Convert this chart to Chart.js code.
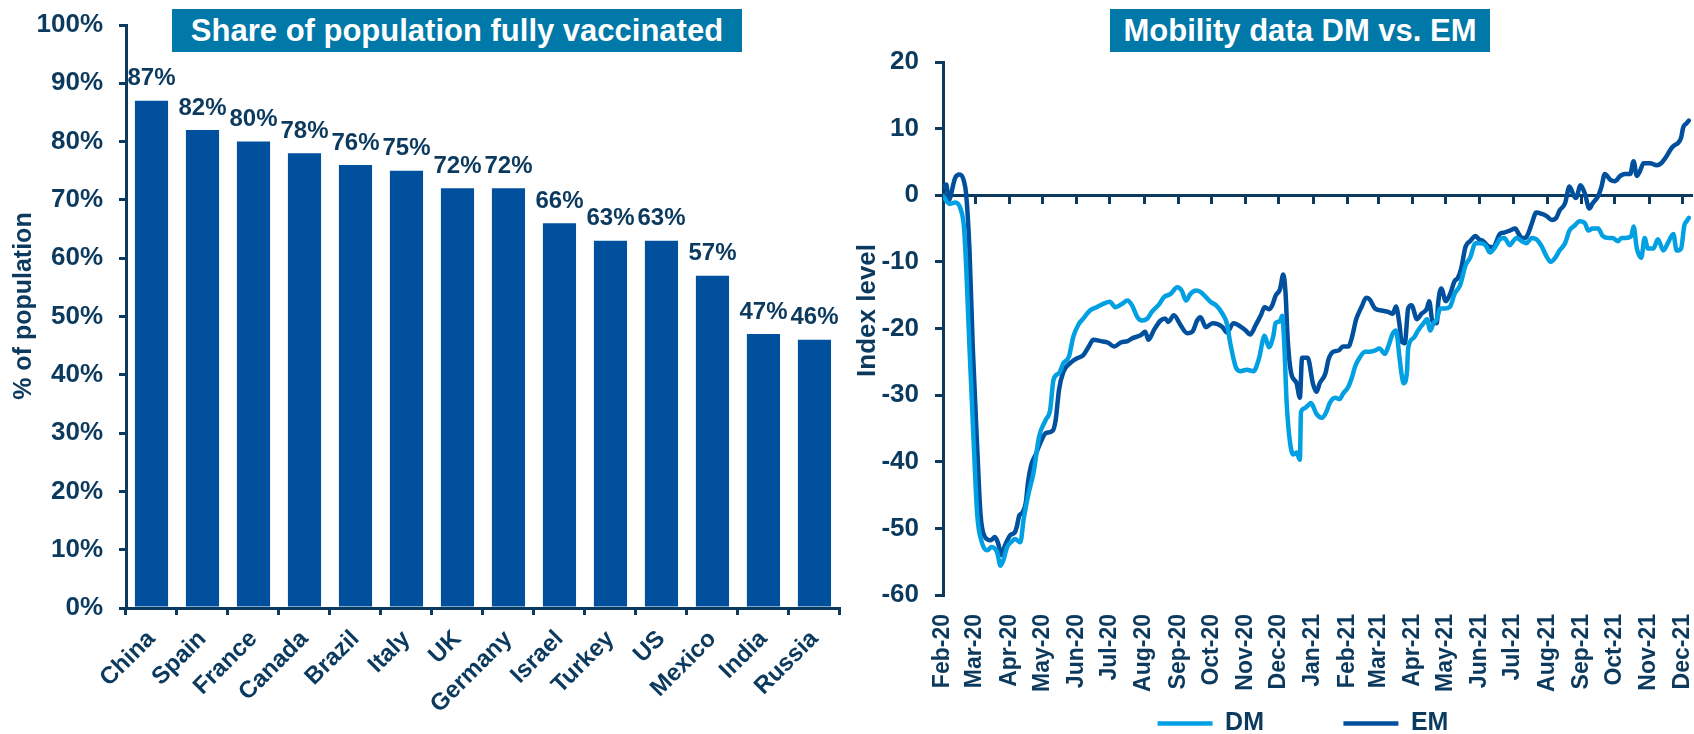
<!DOCTYPE html>
<html>
<head>
<meta charset="utf-8">
<script src="https://cdn.jsdelivr.net/npm/chart.js@4.4.1/dist/chart.umd.min.js"></script>
<style>
  html, body { margin: 0; padding: 0; background: #fff; overflow: hidden; }
  body { width: 1694px; height: 734px; position: relative; font-family: "Liberation Sans", Arial, sans-serif; }
  .panel { position: absolute; top: 0; height: 734px; }
  #left { left: 0; width: 845px; }
  #right { left: 845px; width: 900px; }
  .title { position: absolute; top: 9px; height: 43px; line-height: 43px; background: #0078A8; color: #fff;
           font-weight: bold; font-size: 31px; text-align: center; white-space: nowrap; }
</style>
</head>
<body>
<div class="panel" id="left"><canvas id="vacc"></canvas></div>
<div class="panel" id="right"><canvas id="mob"></canvas></div>
<div class="title" style="left:172px; width:570px;">Share of population fully vaccinated</div>
<div class="title" style="left:1110px; width:380px;">Mobility data DM vs. EM</div>

<script>
// left panel: share of population fully vaccinated (%)
const countries = ['China', 'Spain', 'France', 'Canada', 'Brazil', 'Italy', 'UK', 'Germany',
                   'Israel', 'Turkey', 'US', 'Mexico', 'India', 'Russia'];
const vaccinated = [87, 82, 80, 78, 76, 75, 72, 72, 66, 63, 63, 57, 47, 46];

// right panel: mobility index, x = days since 15 Feb 2020
const monthLabels = ['Feb-20', 'Mar-20', 'Apr-20', 'May-20', 'Jun-20', 'Jul-20', 'Aug-20', 'Sep-20',
                     'Oct-20', 'Nov-20', 'Dec-20', 'Jan-21', 'Feb-21', 'Mar-21', 'Apr-21', 'May-21',
                     'Jun-21', 'Jul-21', 'Aug-21', 'Sep-21', 'Oct-21', 'Nov-21', 'Dec-21'];

const dmDays = [0, 6, 11, 16, 19, 21, 24, 28, 31, 35, 40, 44, 49, 52, 55, 58, 62, 65, 70, 73,
  77, 82, 87, 93, 97, 100, 105, 109, 114, 118, 123, 127, 133, 139, 145, 151, 156, 162, 167, 171,
  176, 180, 185, 189, 195, 200, 206, 212, 216, 220, 224, 229, 233, 238, 242, 247, 253, 257, 260, 265,
  269, 275, 281, 286, 291, 295, 299, 301, 305, 307, 309, 311, 314, 317, 320, 323, 324, 327, 330, 333,
  338, 343, 347, 350, 355, 359, 362, 367, 370, 373, 377, 382, 386, 391, 395, 400, 403, 407, 410, 413,
  415, 417, 420, 421, 426, 430, 435, 438, 441, 444, 447, 450, 454, 459, 463, 468, 473, 477, 482, 486,
  491, 495, 500, 504, 508, 513, 516, 519, 524, 528, 533, 537, 542, 546, 550, 554, 558, 563, 567, 572,
  576, 581, 584, 588, 593, 597, 602, 606, 611, 614, 618, 623, 625, 628, 632, 635, 638, 643, 647, 652,
  656, 661, 664, 668, 671, 673, 675];
const dmIndex = [-0.1, -1.3, -1.1, -2.1, -4.8, -10.8, -23, -38, -48, -52, -53.3, -52.8, -53.6, -55.6, -54.6, -52.8, -52, -51.6, -52.1, -48.6,
  -45.1, -41.6, -36.2, -33.7, -32.2, -27.7, -26.7, -25.2, -24.2, -21.2, -19.3, -18.5, -17.3, -16.8, -16.3, -16, -16.8, -16.3, -15.8, -16.5,
  -18.3, -18.8, -18.5, -17.5, -16.5, -15.3, -14.8, -13.8, -14.3, -15.8, -14.8, -14.3, -14.5, -15.3, -16, -16.5, -17.8, -19.3, -22.2, -25.8,
  -26.4, -26.2, -26.4, -24.5, -21.1, -22.8, -21.1, -19.2, -18.9, -18.1, -22.8, -31, -37, -38.9, -38.6, -39.7, -32.6, -32, -31.6, -31.2,
  -32.8, -33.4, -32.5, -31.2, -30.4, -30.6, -29.8, -28.7, -27.4, -25.7, -24.4, -23.5, -23.5, -23.3, -23, -23.8, -22.7, -20.8, -20.3, -24.1,
  -26.8, -28.2, -26.3, -23, -21.4, -20.3, -19.2, -18.6, -20.3, -19.2, -18.6, -17, -17, -16.7, -14.8, -13.5, -10.5, -9.4, -7.2, -7.2,
  -7.5, -8.6, -7.7, -6.6, -6.4, -7.5, -6.9, -6.4, -6.9, -7.2, -6.4, -6.6, -7.7, -9.1, -10, -9.4, -8.3, -7.2, -5.3, -4.5,
  -3.9, -4.2, -5.3, -5, -5, -6.1, -6.4, -6.4, -6.9, -6.4, -6.4, -6.1, -4.7, -8, -9.4, -6.4, -8, -8, -6.6, -8.3,
  -7.2, -5.8, -8.3, -8, -4.5, -3.9, -3.4];

const emDays = [0, 3, 5, 11, 15, 19, 21, 24, 27, 31, 34, 38, 43, 47, 50, 53, 56, 61, 65, 67,
  69, 72, 75, 77, 80, 84, 88, 93, 99, 102, 105, 109, 115, 121, 127, 132, 136, 143, 149, 155,
  161, 167, 171, 179, 183, 186, 191, 197, 201, 204, 209, 215, 221, 226, 230, 233, 238, 244, 248, 253,
  257, 263, 270, 274, 278, 283, 288, 291, 295, 298, 301, 305, 308, 310, 312, 315, 320, 323, 325, 330,
  335, 338, 341, 346, 349, 353, 358, 362, 367, 370, 374, 379, 383, 386, 391, 397, 403, 407, 410, 413,
  415, 418, 421, 424, 429, 433, 438, 440, 443, 447, 448, 451, 455, 459, 463, 466, 469, 473, 477, 482,
  485, 489, 494, 498, 504, 508, 513, 518, 521, 524, 527, 530, 533, 537, 542, 546, 551, 555, 558, 563,
  567, 571, 573, 577, 581, 585, 588, 593, 596, 599, 604, 608, 613, 617, 622, 625, 628, 631, 634, 640,
  646, 650, 655, 659, 662, 665, 668, 670, 673, 675];
const emIndex = [1.2, 1.6, -0.8, 2.6, 3.1, 2.1, 0.1, -8.3, -23, -38, -48, -51.3, -51.8, -51.3, -52.3, -54, -52.6, -51, -50.6, -49.6,
  -48.1, -47.6, -46.1, -43, -40.4, -38.9, -37.2, -35.7, -35.4, -33.7, -29.2, -26.5, -25.2, -24.5, -24, -22.7, -21.7, -21.9, -22.1, -22.7,
  -22.1, -21.9, -21.5, -21, -20.5, -21.7, -20.2, -18.8, -18.5, -19, -18, -19.5, -20.7, -20.4, -18.8, -18.3, -19.8, -19.2, -19.3, -19.8,
  -20.6, -19.2, -19.8, -20.3, -20.9, -19.5, -17.9, -16.8, -17.1, -16.5, -15.1, -14.1, -11.9, -14.6, -21.7, -26.6, -28.2, -30.4, -24.4, -24.4,
  -28.4, -29.5, -28.2, -26.8, -24.6, -23.5, -23.3, -22.7, -22.7, -21.4, -18.6, -16.7, -15.4, -15.6, -17, -17.3, -17.5, -17.8, -16.7, -19.2,
  -21.9, -22.2, -17, -16.5, -18.6, -17.8, -17, -15.9, -18.9, -19.2, -16.5, -14, -15.9, -14.8, -12.9, -12.4, -11, -7.7, -6.9, -6.1,
  -6.6, -6.9, -7.7, -7.8, -5.8, -5.6, -5.3, -5, -5.8, -6.4, -6.4, -5.6, -4.2, -2.6, -2.8, -3.1, -3.7, -3.4, -2.3, -1.2,
  1.3, -0.1, -0.4, 1.5, 0.2, -2, -1.2, -0.1, 1.3, 3.2, 2.3, 2.1, 2.9, 3.2, 3.2, 5.1, 2.9, 3.7, 4.8, 4.8,
  4.5, 4.8, 5.9, 7, 7.5, 7.8, 8.6, 10.2, 10.8, 11.2];

const NAVY = '#0B3A5E';
const BAR_BLUE = '#00509E';
const EM_BLUE = '#00509E';
const DM_BLUE = '#00A0E3';
const FONT = '"Liberation Sans", Arial, sans-serif';
const NBSP = '\u00a0';

Chart.defaults.font.family = FONT;
Chart.defaults.font.weight = 'bold';
Chart.defaults.color = NAVY;

// value labels above the bars
const barLabels = {
  id: 'barLabels',
  afterDatasetsDraw(chart) {
    const ctx = chart.ctx;
    const meta = chart.getDatasetMeta(0);
    ctx.save();
    ctx.font = 'bold 24px ' + FONT;
    ctx.fillStyle = NAVY;
    ctx.textAlign = 'center';
    ctx.textBaseline = 'bottom';
    meta.data.forEach((bar, i) => {
      ctx.fillText(vaccinated[i] + '%', bar.x, bar.y - 10);
    });
    ctx.restore();
  }
};

// legend sits a little right of the canvas centre in the original
const legendNudge = {
  id: 'legendNudge',
  afterLayout(chart, args, opts) {
    chart.legend.left += opts.dx;
    chart.legend.right += opts.dx;
  }
};

// fixed axis width, and no extra top/bottom padding from the tick labels
const fixWidth = w => scale => {
  scale.width = w;
  scale.paddingTop = 0;
  scale.paddingBottom = 0;
};

new Chart(document.getElementById('vacc'), {
  type: 'bar',
  data: {
    labels: countries,
    datasets: [{
      data: vaccinated,
      backgroundColor: BAR_BLUE,
      barPercentage: 0.65,
      categoryPercentage: 1
    }]
  },
  options: {
    responsive: true,
    maintainAspectRatio: false,
    animation: false,
    layout: { padding: { top: 25, right: 5, left: 0, bottom: 0 } },
    plugins: { legend: { display: false }, tooltip: { enabled: false } },
    scales: {
      x: {
        grid: { drawOnChartArea: false, color: NAVY, lineWidth: 3, tickLength: 7, offset: true },
        border: { color: NAVY, width: 3 },
        ticks: { font: { size: 24 }, minRotation: 45, maxRotation: 45, autoSkip: false, padding: 10 },
        afterFit(scale) { scale.height = 126; }
      },
      y: {
        min: 0,
        max: 100,
        ticks: { stepSize: 10, font: { size: 26 }, padding: 16, callback: v => v + '%' },
        grid: { drawOnChartArea: false, color: NAVY, lineWidth: 3, tickLength: 7 },
        border: { color: NAVY, width: 3 },
        title: { display: true, text: NBSP.repeat(3) + '% of population', font: { size: 25 }, padding: { top: 9, bottom: 0 } },
        afterFit: fixWidth(126)
      }
    }
  },
  plugins: [barLabels]
});

// month ticks sit on the 15th, like the date axis of the original
const start = new Date(2020, 1, 15);
const monthDays = monthLabels.map((_, i) => Math.round((new Date(2020, 1 + i, 15) - start) / 864e5));
const monthTicks = scale => { scale.ticks = monthDays.map(v => ({ value: v })); };

const series = (days, vals) => days.map((d, i) => ({ x: d, y: vals[i] }));

new Chart(document.getElementById('mob'), {
  type: 'line',
  data: {
    datasets: [{
      label: 'DM',
      data: series(dmDays, dmIndex),
      borderColor: DM_BLUE,
      backgroundColor: DM_BLUE,
      borderWidth: 4.5,
      pointRadius: 0,
      cubicInterpolationMode: 'monotone',
      borderCapStyle: 'round',
      borderJoinStyle: 'round'
    }, {
      label: 'EM',
      data: series(emDays, emIndex),
      borderColor: EM_BLUE,
      backgroundColor: EM_BLUE,
      borderWidth: 4.5,
      pointRadius: 0,
      cubicInterpolationMode: 'monotone',
      borderCapStyle: 'round',
      borderJoinStyle: 'round'
    }]
  },
  options: {
    responsive: true,
    maintainAspectRatio: false,
    animation: false,
    layout: { padding: { top: 62, right: 54, left: 0, bottom: -12 } },
    plugins: {
      tooltip: { enabled: false },
      legendNudge: { dx: 35 },
      legend: {
        position: 'bottom',
        labels: {
          usePointStyle: true,
          pointStyle: 'line',
          pointStyleWidth: 55,
          boxWidth: 55,
          padding: 10,
          font: { size: 25 },
          generateLabels(chart) {
            const items = Chart.defaults.plugins.legend.labels.generateLabels(chart);
            items[0].text += NBSP.repeat(10);
            return items;
          }
        }
      }
    },
    scales: {
      x: {
        type: 'linear',
        min: 0,
        max: 677,
        afterBuildTicks: monthTicks,
        grid: { display: false, drawTicks: false },
        border: { display: false },
        ticks: {
          autoSkip: false, minRotation: 90, maxRotation: 90, padding: 19, font: { size: 23 },
          callback: (v, i) => monthLabels[i]
        },
        afterFit(scale) { scale.height = 106; }
      },
      zero: {
        type: 'linear',
        axis: 'x',
        position: { y: 0 },
        min: 0,
        max: 677,
        afterBuildTicks: monthTicks,
        ticks: { display: false },
        grid: { drawOnChartArea: false, color: NAVY, lineWidth: 3, tickLength: 7 },
        border: { color: NAVY, width: 3 }
      },
      y: {
        min: -60,
        max: 20,
        ticks: { stepSize: 10, font: { size: 26 }, padding: 16 },
        grid: { drawOnChartArea: false, color: NAVY, lineWidth: 3, tickLength: 8 },
        border: { color: NAVY, width: 3 },
        title: { display: true, text: NBSP.repeat(5) + 'Index level', font: { size: 26 }, padding: { top: 7, bottom: 0 } },
        afterFit: fixWidth(98)
      }
    }
  },
  plugins: [legendNudge]
});
</script>
</body>
</html>
